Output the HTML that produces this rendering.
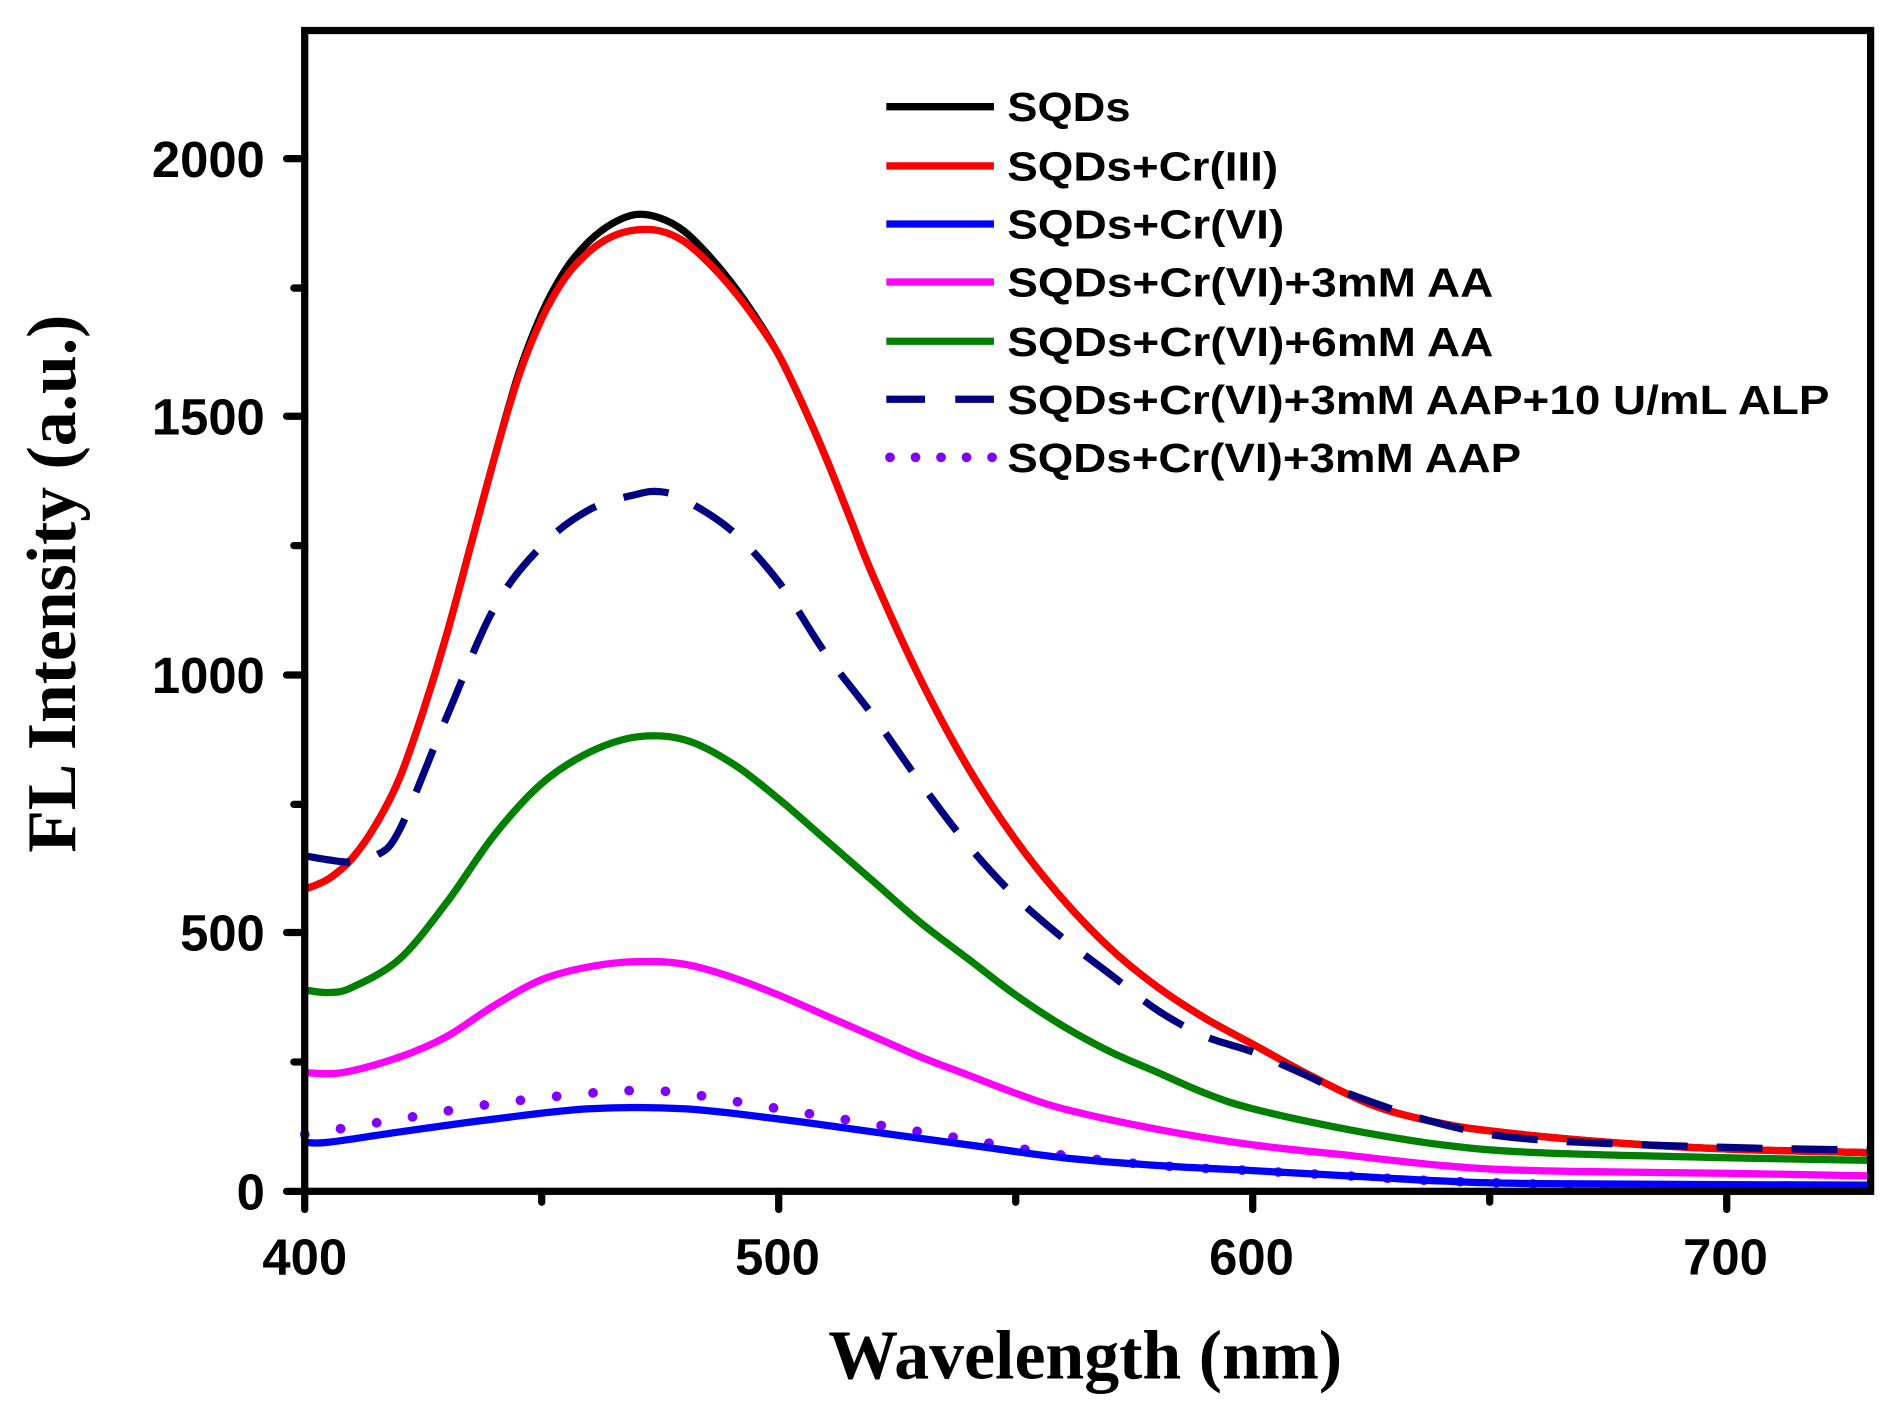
<!DOCTYPE html>
<html><head><meta charset="utf-8"><style>
html,body{margin:0;padding:0;background:#fff;}
svg{display:block;}
.tk{font-family:"Liberation Sans",Arial,sans-serif;font-weight:bold;font-size:42px;fill:#000;}
.lg{font-family:"Liberation Sans",Arial,sans-serif;font-weight:bold;font-size:34px;fill:#000;}
.ttl{font-family:"Liberation Serif","Times New Roman",serif;font-weight:bold;font-size:58px;fill:#000;}
</style></head><body>
<svg id="s" width="1896" height="1402" viewBox="0 0 1568 1159" xmlns="http://www.w3.org/2000/svg">
<g id="curves" fill="none" stroke-linejoin="round"></g>
<rect x="252" y="25" width="1295" height="960" fill="none" stroke="#000" stroke-width="6"/>
<g stroke="#000" stroke-width="6" stroke-linecap="round">
<line x1="252" y1="985" x2="252" y2="1000"/>
<line x1="448" y1="985" x2="448" y2="994"/>
<line x1="644" y1="985" x2="644" y2="1000"/>
<line x1="840" y1="985" x2="840" y2="994"/>
<line x1="1036" y1="985" x2="1036" y2="1000"/>
<line x1="1232" y1="985" x2="1232" y2="994"/>
<line x1="1428" y1="985" x2="1428" y2="1000"/>
<line x1="237" y1="985" x2="252" y2="985"/>
<line x1="243" y1="878" x2="252" y2="878"/>
<line x1="237" y1="771" x2="252" y2="771"/>
<line x1="243" y1="665" x2="252" y2="665"/>
<line x1="237" y1="558" x2="252" y2="558"/>
<line x1="243" y1="451" x2="252" y2="451"/>
<line x1="237" y1="344" x2="252" y2="344"/>
<line x1="243" y1="238" x2="252" y2="238"/>
<line x1="237" y1="131" x2="252" y2="131"/>
</g>
<g class="tk" text-anchor="end">
<text x="219" y="1000">0</text>
<text x="219" y="786">500</text>
<text x="219" y="573">1000</text>
<text x="219" y="359">1500</text>
<text x="219" y="146">2000</text>
</g>
<g class="tk" text-anchor="middle">
<text x="252" y="1054">400</text>
<text x="643" y="1054">500</text>
<text x="1035" y="1054">600</text>
<text x="1427" y="1054">700</text>
</g>
<text class="ttl" x="685" y="1140" textLength="425" lengthAdjust="spacingAndGlyphs">Wavelength (nm)</text>
<text class="ttl" transform="translate(62,705) rotate(-90)" textLength="445" lengthAdjust="spacingAndGlyphs">FL Intensity (a.u.)</text>
<g stroke-width="6" fill="none">
<line x1="733" y1="88" x2="822" y2="88" stroke="#000"/>
<line x1="733" y1="137" x2="822" y2="137" stroke="#f00"/>
<line x1="733" y1="185" x2="822" y2="185" stroke="#00f"/>
<line x1="733" y1="233" x2="822" y2="233" stroke="#f0f"/>
<line x1="733" y1="282" x2="822" y2="282" stroke="#008000"/>
<line x1="733" y1="330" x2="822" y2="330" stroke="#000080" stroke-dasharray="32 25"/>
<line x1="736" y1="378" x2="822" y2="378" stroke="#8000ff" stroke-width="8" stroke-linecap="round" stroke-dasharray="0.1 21"/>
</g>
<g class="lg">
<text x="833" y="100" textLength="102" lengthAdjust="spacingAndGlyphs">SQDs</text>
<text x="833" y="149" textLength="224" lengthAdjust="spacingAndGlyphs">SQDs+Cr(III)</text>
<text x="833" y="197" textLength="229" lengthAdjust="spacingAndGlyphs">SQDs+Cr(VI)</text>
<text x="833" y="245" textLength="402" lengthAdjust="spacingAndGlyphs">SQDs+Cr(VI)+3mM AA</text>
<text x="833" y="294" textLength="402" lengthAdjust="spacingAndGlyphs">SQDs+Cr(VI)+6mM AA</text>
<text x="833" y="342" textLength="680" lengthAdjust="spacingAndGlyphs">SQDs+Cr(VI)+3mM AAP+10 U/mL ALP</text>
<text x="833" y="390" textLength="425" lengthAdjust="spacingAndGlyphs">SQDs+Cr(VI)+3mM AAP</text>
</g>
</svg>
<script>
function X(w){return 252+(w-400)*3.92;}
function Y(v){return 985-v*0.427;}
function path(pts){
  var p=pts.map(function(a){return [X(a[0]),Y(a[1])];});
  var d="M"+p[0][0].toFixed(1)+","+p[0][1].toFixed(1);
  for(var i=0;i<p.length-1;i++){
    var p0=p[i-1]||p[i],p1=p[i],p2=p[i+1],p3=p[i+2]||p2;
    var c1=[p1[0]+(p2[0]-p0[0])/6,p1[1]+(p2[1]-p0[1])/6];
    var c2=[p2[0]-(p3[0]-p1[0])/6,p2[1]-(p3[1]-p1[1])/6];
    d+="C"+c1[0].toFixed(1)+","+c1[1].toFixed(1)+" "+c2[0].toFixed(1)+","+c2[1].toFixed(1)+" "+p2[0].toFixed(1)+","+p2[1].toFixed(1);
  }
  return d;
}
var black=[[400,585],[405,605],[410,645],[415,710],[420,800],[425,930],[430,1080],[435,1250],[440,1420],[445,1580],[450,1700],[455,1785],[460,1840],[465,1875],[470,1892],[475,1885],[480,1860],[485,1815],[490,1760],[495,1695],[500,1620],[505,1525],[510,1420],[515,1305],[520,1190],[530,990],[540,820],[550,680],[560,565],[570,470],[580,395],[590,335],[600,285],[612,225],[625,168],[637,137],[650,117],[675,95],[700,82],[730,75]];
var red=black.map(function(a){var f=a[0]>=440&&a[0]<=500?(1-Math.abs(a[0]-470)/30):0;return [a[0],a[1]-30*f];});
var navy=[[400,650],[405,642],[410,638],[415,650],[420,700],[430,920],[440,1130],[450,1250],[460,1320],[470,1350],[475,1355],[480,1340],[490,1280],[500,1180],[510,1040],[520,920],[530,790],[540,670],[550,570],[560,490],[570,420],[580,350],[590,300],[600,270],[610,230],[620,190],[640,130],[660,100],[700,85],[730,80]];
var green=[[400,390],[405,385],[410,395],[420,450],[430,560],[440,690],[450,790],[460,850],[470,880],[480,875],[490,830],[500,760],[510,680],[520,600],[530,520],[540,450],[550,380],[560,320],[570,270],[580,230],[590,190],[600,160],[620,120],[640,90],[660,75],[700,65],[730,60]];
var mag=[[400,230],[408,230],[420,260],[430,300],[440,360],[450,410],[460,435],[470,445],[480,440],[490,415],[500,380],[510,340],[520,300],[530,260],[540,225],[550,190],[560,160],[580,120],[600,90],[620,70],[640,50],[660,40],[700,35],[730,30]];
var blue=[[400,95],[405,95],[420,115],[440,140],[460,160],[480,160],[500,140],[520,115],[540,90],[560,65],[580,50],[600,40],[620,30],[640,20],[660,15],[730,12]];
var purp=[[400,110],[420,140],[440,170],[460,190],[470,195],[480,190],[500,160],[520,130],[540,100],[560,70],[580,50],[600,40],[620,30],[640,20],[680,10],[730,8]];
var g=document.getElementById("curves");
function add(pts,col,extra){
  var e=document.createElementNS("http://www.w3.org/2000/svg","path");
  e.setAttribute("d",path(pts));e.setAttribute("stroke",col);e.setAttribute("stroke-width","6");
  for(var k in extra)e.setAttribute(k,extra[k]);
  g.appendChild(e);
}
add(purp,"#8000ff",{"stroke-width":"8","stroke-linecap":"round","stroke-dasharray":"0.1 30"});
add(blue,"#00f",{});
add(mag,"#f0f",{});
add(green,"#008000",{});
add(black,"#000",{});
add(red,"#f00",{});
add(navy,"#000080",{"stroke-dasharray":"38 24"});
</script>
</body></html>
